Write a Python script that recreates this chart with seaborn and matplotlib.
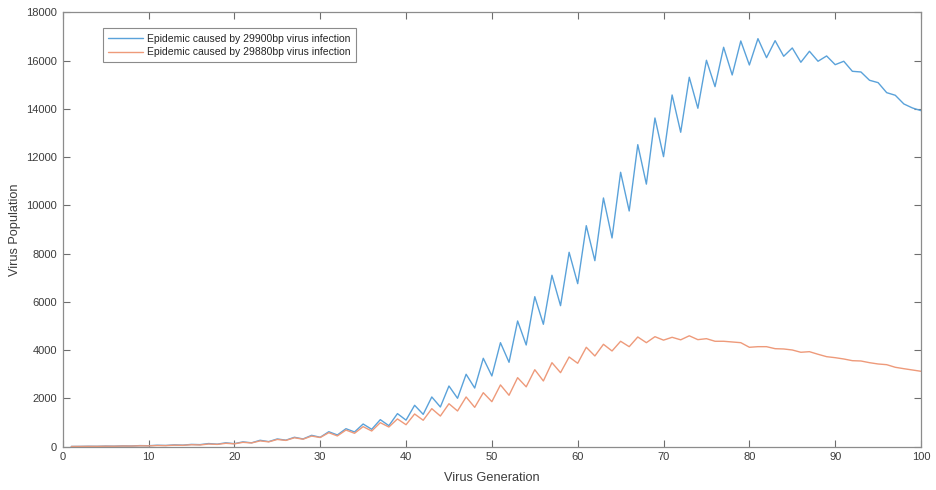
import numpy as np
import pandas as pd
import matplotlib
matplotlib.use("Agg")
import matplotlib.pyplot as plt
import seaborn as sns

generations = list(range(1, 101))

pop_29900 = [10, 12, 18, 16, 25, 22, 33, 30, 45, 40,
             60, 52, 75, 65, 95, 85, 130, 105, 160, 125,
             200, 160, 265, 210, 320, 270, 390, 320, 470, 390,
             620, 485, 745, 610, 940, 720, 1120, 870, 1370, 1100,
             1715, 1340, 2060, 1645, 2515, 2005, 3000, 2430, 3663, 2930,
             4310, 3497, 5209, 4214, 6216, 5072, 7103, 5843, 8055, 6755,
             9158, 7708, 10306, 8649, 11371, 9767, 12515, 10880, 13620, 12018,
             14574, 13029, 15308, 14023, 16012, 14919, 16551, 15403, 16812, 15817,
             16908, 16121, 16825, 16178, 16522, 15930, 16385, 15971, 16191, 15830,
             15971, 15555, 15527, 15183, 15085, 14670, 14562, 14202, 14036, 13924]

pop_29880 = [8, 10, 14, 13, 20, 18, 27, 25, 36, 33,
             48, 44, 62, 56, 80, 72, 110, 95, 140, 118,
             180, 155, 240, 200, 300, 260, 370, 310, 440, 380,
             580, 445, 690, 555, 830, 650, 995, 815, 1150, 910,
             1355, 1095, 1575, 1270, 1780, 1480, 2060, 1630, 2237, 1865,
             2560, 2130, 2860, 2480, 3190, 2723, 3481, 3067, 3717, 3456,
             4119, 3759, 4243, 3966, 4368, 4144, 4546, 4310, 4558, 4415,
             4533, 4428, 4595, 4435, 4476, 4368, 4368, 4339, 4310, 4119,
             4144, 4144, 4061, 4049, 4007, 3912, 3937, 3829, 3730, 3688,
             3634, 3564, 3551, 3481, 3427, 3398, 3290, 3232, 3178, 3124]

series_labels = ["Epidemic caused by 29900bp virus infection",
                 "Epidemic caused by 29880bp virus infection"]
x_ticks = [0, 10, 20, 30, 40, 50, 60, 70, 80, 90, 100]
y_ticks = [0, 2000, 4000, 6000, 8000, 10000, 12000, 14000, 16000, 18000]

df = pd.DataFrame({
    "Virus Generation": generations * 2,
    "Virus Population": pop_29900 + pop_29880,
    "series": [series_labels[0]] * len(generations) + [series_labels[1]] * len(generations),
})

sns.set_style("white")
plt.rcParams["font.family"] = ["Liberation Sans", "DejaVu Sans"]

fig = plt.figure(figsize=(9.36, 4.90), dpi=100)
ax = fig.add_axes([0.067, 0.0884, 0.917, 0.8865])

palette = {series_labels[0]: "#5aa2da", series_labels[1]: "#ee9a7a"}
sns.lineplot(data=df, x="Virus Generation", y="Virus Population", hue="series",
             palette=palette, linewidth=1.0, ax=ax, legend=True)

ax.set_xlim(0, 100)
ax.set_ylim(0, 18000)
ax.set_xticks(x_ticks)
ax.set_yticks(y_ticks)

edge = "#8c8c8c"
for s in ax.spines.values():
    s.set_visible(True)
    s.set_color(edge)
    s.set_linewidth(0.9)
ax.tick_params(direction="in", length=5, width=0.8, color="#6e6e6e",
               top=True, right=True, labelsize=8, labelcolor="#3c3c3c",
               bottom=True, left=True, pad=4)
ax.set_xlabel("Virus Generation", fontsize=9.2, color="#3c3c3c", labelpad=7)
ax.set_ylabel("Virus Population", fontsize=9.2, color="#3c3c3c", labelpad=4)

leg = ax.legend(loc="upper left", bbox_to_anchor=(0.047, 0.963), fontsize=7.5,
                frameon=True, fancybox=False, edgecolor="#6e6e6e",
                handlelength=3.3, handletextpad=0.45, borderpad=0.5,
                labelspacing=0.35, borderaxespad=0)
leg.get_frame().set_linewidth(0.8)
for t in leg.get_texts():
    t.set_color("#262626")

fig.savefig("out.png", dpi=100, facecolor="white")
